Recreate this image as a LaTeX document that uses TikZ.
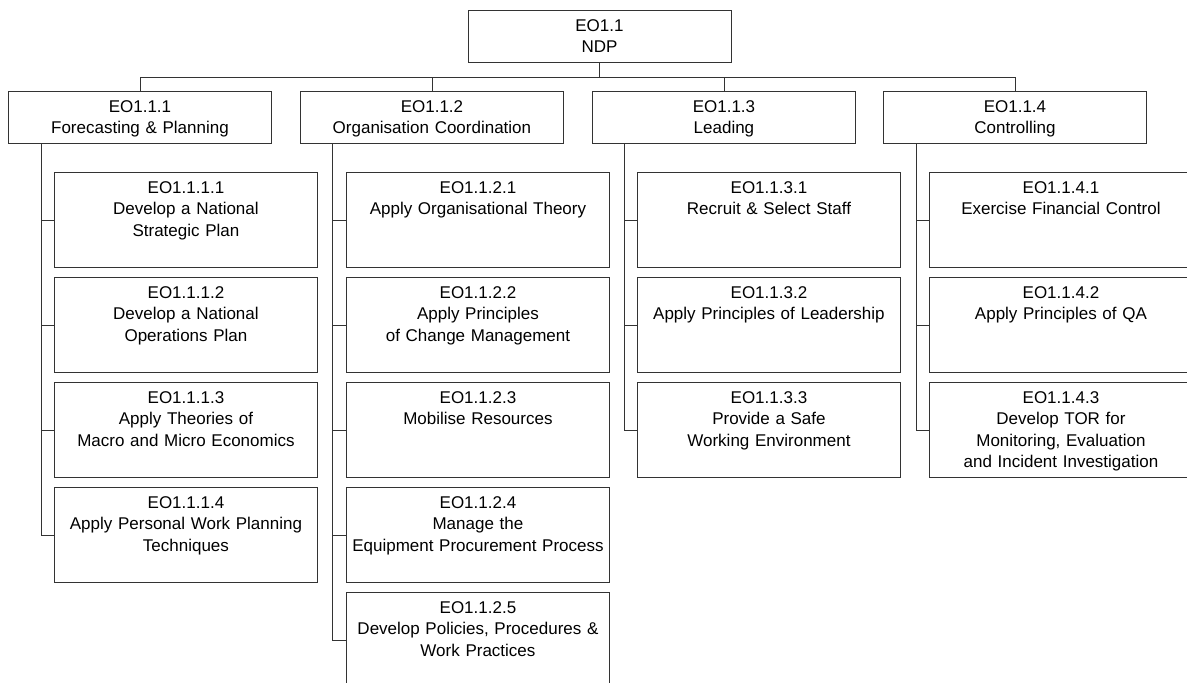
\documentclass[tikz,border=0pt]{standalone}
\usepackage{fontspec}
\setmainfont{Liberation Sans}
\tikzset{
  eobox/.style={rectangle,draw=black!80,line width=0.9pt,text width=255pt,align=center,
    inner xsep=4pt,inner ysep=0pt,text height=21pt,text depth=31pt,anchor=north west},
  taskbox/.style={eobox,text depth=74pt},
  link/.style={draw=black!80,line width=0.9pt}
}
\begin{document}
\begin{tikzpicture}[x=1pt,y=-1pt,font=\fontsize{17}{21.5}\selectfont]
        \useasboundingbox (0,0) rectangle (1187,683);

        \draw (599.5,10) node (eo11) [eobox,anchor=north] {EO1.1\\NDP};

        \draw (8,91) node (eo111) [eobox] {EO1.1.1\\Forecasting \& Planning};
        \draw (300,91) node (eo112) [eobox] {EO1.1.2\\Organisation Coordination};
        \draw (592,91) node (eo113) [eobox] {EO1.1.3\\Leading};
        \draw (883,91) node (eo114) [eobox] {EO1.1.4\\Controlling};

        \draw (54,172) node (eo1111) [taskbox] {EO1.1.1.1\\Develop a National\\Strategic Plan};
        \draw (54,277) node (eo1112) [taskbox] {EO1.1.1.2\\Develop a National\\Operations Plan};
        \draw (54,382) node (eo1113) [taskbox] {EO1.1.1.3\\Apply Theories of\\Macro and Micro Economics};
        \draw (54,487) node (eo1114) [taskbox] {EO1.1.1.4\\Apply Personal Work Planning\\Techniques};

        \draw (346,172) node (eo1121) [taskbox] {EO1.1.2.1\\Apply Organisational Theory};
        \draw (346,277) node (eo1122) [taskbox] {EO1.1.2.2\\Apply Principles\\of Change Management};
        \draw (346,382) node (eo1123) [taskbox] {EO1.1.2.3\\Mobilise Resources};
        \draw (346,487) node (eo1124) [taskbox] {EO1.1.2.4\\Manage the\\Equipment Procurement Process};
        \draw (346,592) node (eo1125) [taskbox] {EO1.1.2.5\\Develop Policies, Procedures \&\\Work Practices};

        \draw (637,172) node (eo1131) [taskbox] {EO1.1.3.1\\Recruit \& Select Staff};
        \draw (637,277) node (eo1132) [taskbox] {EO1.1.3.2\\Apply Principles of Leadership};
        \draw (637,382) node (eo1133) [taskbox] {EO1.1.3.3\\Provide a Safe\\Working Environment};

        \draw (929,172) node (eo1141) [taskbox] {EO1.1.4.1\\Exercise Financial Control};
        \draw (929,277) node (eo1142) [taskbox] {EO1.1.4.2\\Apply Principles of QA};
        \draw (929,382) node (eo1143) [taskbox] {EO1.1.4.3\\Develop TOR for\\Monitoring, Evaluation\\and Incident Investigation};

        \draw [link] (eo11.south) -- ++(0,15) -| (eo111.north);
        \draw [link] (eo11.south) -- ++(0,15) -| (eo112.north);
        \draw [link] (eo11.south) -- ++(0,15) -| (eo113.north);
        \draw [link] (eo11.south) -- ++(0,15) -| (eo114.north);

        \draw [link] ([xshift=33pt]eo111.south west) |- (eo1111.west);
        \draw [link] ([xshift=33pt]eo111.south west) |- (eo1112.west);
        \draw [link] ([xshift=33pt]eo111.south west) |- (eo1113.west);
        \draw [link] ([xshift=33pt]eo111.south west) |- (eo1114.west);

        \draw [link] ([xshift=32pt]eo112.south west) |- (eo1121.west);
        \draw [link] ([xshift=32pt]eo112.south west) |- (eo1122.west);
        \draw [link] ([xshift=32pt]eo112.south west) |- (eo1123.west);
        \draw [link] ([xshift=32pt]eo112.south west) |- (eo1124.west);
        \draw [link] ([xshift=32pt]eo112.south west) |- (eo1125.west);

        \draw [link] ([xshift=32pt]eo113.south west) |- (eo1131.west);
        \draw [link] ([xshift=32pt]eo113.south west) |- (eo1132.west);
        \draw [link] ([xshift=32pt]eo113.south west) |- (eo1133.west);

        \draw [link] ([xshift=33pt]eo114.south west) |- (eo1141.west);
        \draw [link] ([xshift=33pt]eo114.south west) |- (eo1142.west);
        \draw [link] ([xshift=33pt]eo114.south west) |- (eo1143.west);
    \end{tikzpicture}
\end{document}
